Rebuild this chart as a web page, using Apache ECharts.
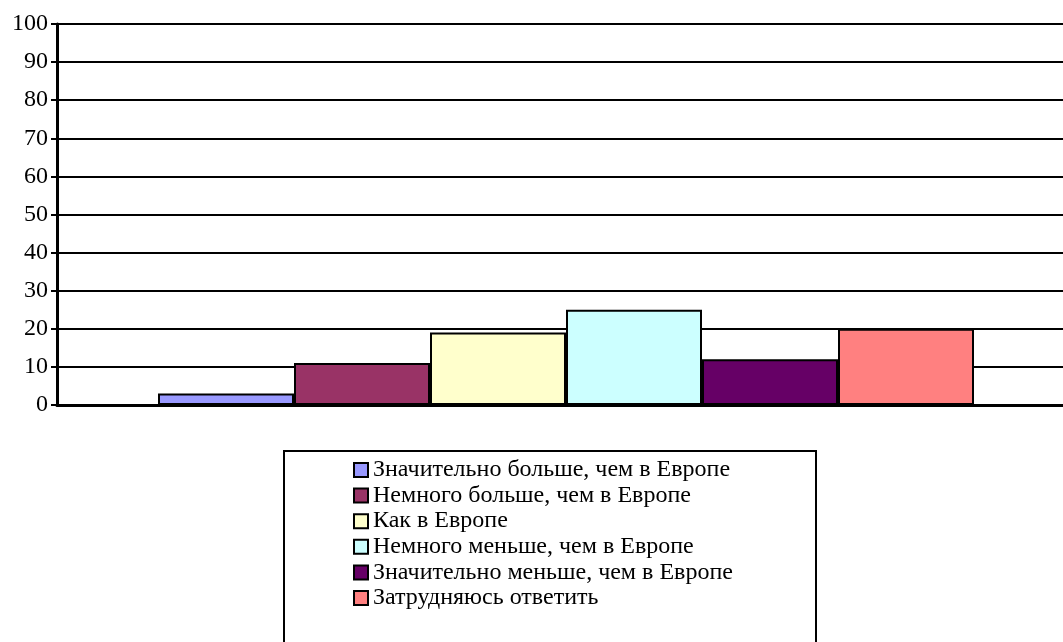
<!DOCTYPE html>
<html>
<head>
<meta charset="utf-8">
<script src="https://cdn.jsdelivr.net/npm/echarts@6/dist/echarts.min.js"></script>
<style>
  html, body { margin: 0; padding: 0; background: #fff; overflow: hidden; }
  #wrap { width: 1063px; height: 642px; overflow: hidden; }
  /* the plot area continues a little past the right edge of the page */
  #chart { width: 1075px; height: 642px; }
</style>
</head>
<body>
<div id="wrap"><div id="chart"></div></div>
<script>
// Survey answers, percent of respondents
const categories = [''];
const seriesNames = [
  'Значительно больше, чем в Европе',
  'Немного больше, чем в Европе',
  'Как в Европе',
  'Немного меньше, чем в Европе',
  'Значительно меньше, чем в Европе',
  'Затрудняюсь ответить'
];
const seriesValues = [3, 11, 19, 25, 12, 20];
const seriesColors = ['#9999ff', '#993366', '#ffffcc', '#ccffff', '#660066', '#ff8080'];
const yTicks = [0, 10, 20, 30, 40, 50, 60, 70, 80, 90, 100];

const serif = '"Liberation Serif", "Times New Roman", serif';

const chart = echarts.init(document.getElementById('chart'));

const series = seriesNames.map((name, i) => ({
  name: name,
  type: 'bar',
  data: [seriesValues[i]],
  barGap: '0%',
  barWidth: 136,
  itemStyle: { color: seriesColors[i], borderColor: '#000', borderWidth: 2 }
}));

chart.setOption({
  animation: false,
  backgroundColor: '#fff',
  grid: { left: 57, top: 24, bottom: 237, right: 0, containLabel: false },
  xAxis: {
    type: 'category',
    data: categories,
    axisLine: { lineStyle: { color: '#000', width: 3 } },
    axisTick: { show: false },
    axisLabel: { show: false },
    splitLine: { show: false }
  },
  yAxis: {
    type: 'value',
    min: yTicks[0],
    max: yTicks[yTicks.length - 1],
    interval: 10,
    axisLine: { show: true, lineStyle: { color: '#000', width: 3 } },
    axisTick: { show: true, length: 6, lineStyle: { color: '#000', width: 2 } },
    axisLabel: { color: '#000', fontFamily: serif, fontSize: 24, margin: 9 },
    splitLine: { show: true, lineStyle: { color: '#000', width: 2 } }
  },
  legend: {
    orient: 'vertical',
    left: 353,
    top: 458,
    icon: 'rect',
    itemWidth: 14,
    itemHeight: 14,
    itemGap: 1.6,
    padding: 0,
    textStyle: { color: '#000', fontFamily: serif, fontSize: 24, lineHeight: 24 },
    data: seriesNames
  },
  graphic: [{
    type: 'rect',
    shape: { x: 284, y: 451, width: 532, height: 200 },
    style: { fill: 'none', stroke: '#000', lineWidth: 2 },
    z: -1
  }],
  series: series
});
</script>
</body>
</html>
